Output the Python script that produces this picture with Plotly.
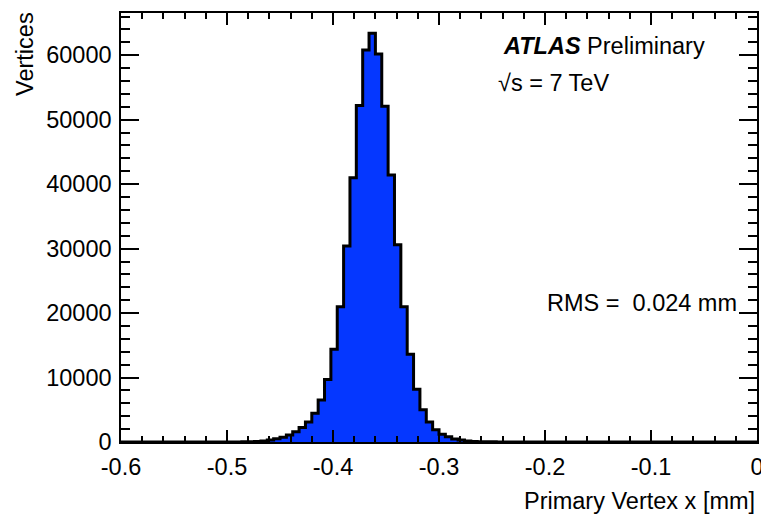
import plotly.graph_objects as go

# histogram binning (100 bins of 0.006 mm between -0.6 and 0)
x_lo, x_hi, n_bins = -0.6, 0.0, 100
bin_width = (x_hi - x_lo) / n_bins

# vertices per bin
counts = [
    0, 0, 0, 0, 0, 0, 0, 0, 0, 0,
    0, 0, 0, 0, 0, 3, 5, 8, 12, 20,
    35, 70, 150, 310, 510, 730, 1085, 1600, 2250, 3100,
    4450, 6500, 9700, 14400, 21000, 30400, 41000, 52200, 60800, 63400,
    60200, 52100, 41400, 30600, 21000, 13600, 8200, 5000, 3100, 1900,
    1190, 820, 465, 300, 160, 90, 50, 30, 20, 14,
    10, 7, 5, 3, 2, 1, 0, 0, 0, 0,
    0, 0, 0, 0, 0, 0, 0, 0, 0, 0,
    0, 0, 0, 0, 0, 0, 0, 0, 0, 0,
    0, 0, 0, 0, 0, 0, 0, 0, 0, 0,
]

x_ticks = [-0.6, -0.5, -0.4, -0.3, -0.2, -0.1, 0.0]
x_tick_labels = ['-0.6', '-0.5', '-0.4', '-0.3', '-0.2', '-0.1', '0']
y_ticks = [0, 10000, 20000, 30000, 40000, 50000, 60000]
y_tick_labels = ['0', '10000', '20000', '30000', '40000', '50000', '60000']

edges = [x_lo + i * bin_width for i in range(n_bins + 1)]
steps = counts + [counts[-1]]

FONT = 'Liberation Sans'
BLUE = '#0537ff'

fig = go.Figure()
fig.add_trace(go.Scatter(
    x=edges, y=steps, mode='lines', line_shape='hv',
    fill='tozeroy', fillcolor=BLUE,
    line=dict(color='black', width=3),
    showlegend=False, hoverinfo='skip',
))

axis_common = dict(
    showline=True, linecolor='black', linewidth=1.5, mirror='allticks',
    ticks='inside', tickcolor='black', tickwidth=1.5,
    showgrid=False, zeroline=False, automargin=False,
    tickfont=dict(family=FONT, size=23.5, color='black'),
)

fig.update_xaxes(
    range=[x_lo, x_hi], tickvals=x_ticks, ticktext=x_tick_labels, ticklen=12,
    minor=dict(dtick=0.02, tick0=x_lo, ticks='inside', ticklen=6,
               tickcolor='black', tickwidth=1.5, showgrid=False),
    ticklabelstandoff=3,
    **axis_common,
)
fig.update_yaxes(
    range=[0, 66550], tickvals=y_ticks, ticktext=y_tick_labels, ticklen=18,
    minor=dict(dtick=2000, tick0=0, ticks='inside', ticklen=9,
               tickcolor='black', tickwidth=1.5, showgrid=False),
    ticklabelstandoff=3,
    **axis_common,
)

txt = dict(family=FONT, size=23.5, color='black')
fig.add_annotation(text='<b><i>ATLAS</i></b> Preliminary', xref='paper', yref='paper',
                   x=0.597, y=0.923, xanchor='left', yanchor='middle',
                   showarrow=False, font=txt)
fig.add_annotation(text='√s = 7 TeV', xref='paper', yref='paper',
                   x=0.590, y=0.837, xanchor='left', yanchor='middle',
                   showarrow=False, font=txt)
fig.add_annotation(text='RMS =\u00a0\u00a00.024 mm', xref='paper', yref='paper',
                   x=0.667, y=0.324, xanchor='left', yanchor='middle',
                   showarrow=False, font=txt)
fig.add_annotation(text='Vertices', xref='paper', yref='paper',
                   x=-0.151, y=1.007, xanchor='center', yanchor='top',
                   textangle=-90, showarrow=False, font=txt)
fig.add_annotation(text='Primary Vertex x [mm]', xref='paper', yref='paper',
                   x=1.0, y=-0.137, xanchor='right', yanchor='middle',
                   showarrow=False, font=txt)

# the page body has an 8px margin, so the figure is a bit smaller than the window
fig.update_layout(
    template='none',
    width=761, height=511,
    margin=dict(l=113, r=12, t=5, b=77, autoexpand=False),
    paper_bgcolor='white', plot_bgcolor='white',
    font=dict(family=FONT, color='black'),
)

fig.write_html('out.html')
